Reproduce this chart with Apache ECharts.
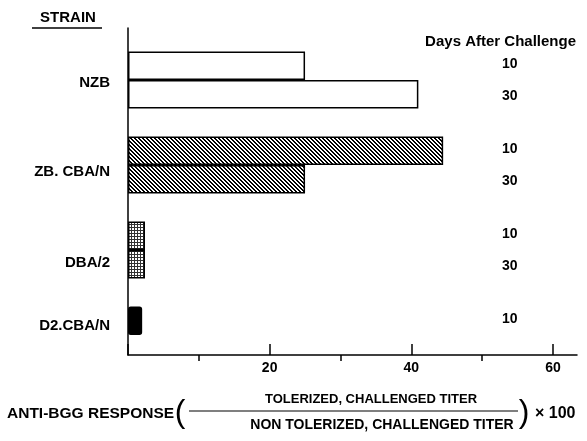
<!DOCTYPE html>
<html lang="en">
<head>
<meta charset="UTF-8">
<title>Anti-BGG response by strain</title>
<script src="https://cdn.jsdelivr.net/npm/echarts@6/dist/echarts.min.js"></script>
<style>
  html, body { margin: 0; padding: 0; background: #fff; }
  #chart { width: 587px; height: 441px; }
</style>
</head>
<body>
<div id="chart"></div>
<script>
// strains, top to bottom, and the response at 10 / 30 days after challenge
const strains = ['NZB', 'ZB. CBA/N', 'DBA/2', 'D2.CBA/N'];
const days = [10, 30];
const day10 = [25, 44.5, 2.4, 2.0];
const day30 = [41, 25, 2.4, null];
const tickLabels = [20, 40, 60];

const FONT = '"Liberation Sans", Arial, Helvetica, sans-serif';
// nudges for the strain names (px, + is down), the original lettering is not on the bar centres
const nameShift = [3, 7, 13, -9];

// small repeating canvas fills for the hatched / dotted bars
function makePattern(size, ink, isInk) {
    const c = document.createElement('canvas');
    c.width = size;
    c.height = size;
    const ctx = c.getContext('2d');
    ctx.fillStyle = '#fff';
    ctx.fillRect(0, 0, size, size);
    ctx.fillStyle = ink;
    for (let y = 0; y < size; y++) {
        for (let x = 0; x < size; x++) {
            if (isInk(x, y)) ctx.fillRect(x, y, 1, 1);
        }
    }
    return { image: c, repeat: 'repeat' };
}
const hatch = makePattern(4, '#000', (x, y) => ((x - y + 8) % 4) < 2);
const stipple = makePattern(3, '#333', (x, y) => x % 3 === 2 || y % 3 === 2);
const fills = ['#fff', hatch, stipple, '#000'];

function barData(vals) {
    return vals.map((v, i) => ({
        value: v,
        itemStyle: { color: fills[i], borderRadius: i === 3 ? 2 : 0 }
    }));
}

// right-hand "days" column, one line per day that has a bar
function dayLabel(value, idx) {
    const lines = [day10[idx] != null ? days[0] : ' ', day30[idx] != null ? days[1] : ' '];
    return lines.join('\n');
}

const nameRich = {};
nameShift.forEach((d, i) => {
    nameRich['s' + i] = {
        color: '#000', fontSize: 15, fontWeight: 'bold', fontFamily: FONT,
        padding: d > 0 ? [2 * d, 0, 0, 0] : [0, 0, -2 * d, 0]
    };
});

const chart = echarts.init(document.getElementById('chart'));

// plot spans x = 128..577 for 0..xMax; the tick strip stops at 60
const plotLeft = 128, plotRight = 577, axisY = 355, xMax = 63.4, tickMax = 60;
const tickRight = 587 - (plotLeft + (plotRight - plotLeft) * tickMax / xMax);
const majorLen = 11;

const option = {
    animation: false,
    grid: [
        { left: plotLeft, right: 587 - plotRight, top: 37.5, height: 340 },
        { left: plotLeft, right: 587 - plotRight, top: 28, bottom: 441 - axisY },
        // thin strip above the x axis: its split lines are the long ticks
        { left: plotLeft, right: tickRight, top: axisY - majorLen, bottom: 441 - axisY }
    ],
    xAxis: [
        { gridIndex: 0, type: 'value', min: 0, max: xMax, show: false },
        {
            gridIndex: 1, type: 'value', min: 0, max: xMax, position: 'bottom',
            axisLine: { show: true, lineStyle: { color: '#000', width: 1.5 } },
            axisTick: { show: false },
            axisLabel: { customValues: tickLabels, margin: 6, color: '#000', fontSize: 14, fontWeight: 'bold', fontFamily: FONT },
            splitLine: { show: false }
        },
        {
            gridIndex: 2, type: 'value', min: 0, max: tickMax, interval: 20, position: 'bottom',
            axisLine: { show: false },
            axisTick: { show: false },
            minorTick: { show: true, splitNumber: 2, length: 6, lineStyle: { color: '#000', width: 1.5 } },
            axisLabel: { show: false },
            splitLine: { show: true, lineStyle: { color: '#000', width: 1.5 } }
        }
    ],
    yAxis: [
        {
            gridIndex: 0, type: 'category', data: strains, inverse: true,
            axisLine: { show: false }, axisTick: { show: false },
            axisLabel: {
                margin: 18,
                formatter: (value, idx) => '{s' + idx + '|' + value + '}',
                rich: nameRich
            }
        },
        {
            gridIndex: 0, type: 'category', data: strains, inverse: true, position: 'right', offset: -75,
            axisLine: { show: false }, axisTick: { show: false },
            axisLabel: {
                margin: 0, align: 'left', lineHeight: 32, formatter: dayLabel,
                color: '#000', fontSize: 14, fontWeight: 'bold', fontFamily: FONT
            }
        },
        {
            gridIndex: 1, type: 'value', min: 0, max: 1,
            axisLine: { show: true, lineStyle: { color: '#000', width: 1.5 } },
            axisTick: { show: false }, axisLabel: { show: false }, splitLine: { show: false }
        },
        { gridIndex: 2, type: 'value', min: 0, max: 1, show: false }
    ],
    series: [
        {
            name: '10 days', type: 'bar', xAxisIndex: 0, yAxisIndex: 0,
            barGap: '0%', barCategoryGap: '33%',
            itemStyle: { borderColor: '#000', borderWidth: 1.5 },
            data: barData(day10)
        },
        {
            name: '30 days', type: 'bar', xAxisIndex: 0, yAxisIndex: 0,
            barGap: '0%', barCategoryGap: '33%',
            itemStyle: { borderColor: '#000', borderWidth: 1.5 },
            data: barData(day30)
        }
    ],
    graphic: [
        { type: 'text', x: 68, y: 18, style: { text: 'STRAIN', fill: '#000', font: 'bold 15px ' + FONT, align: 'center', verticalAlign: 'middle', textAlign: 'center', textVerticalAlign: 'middle' } },
        { type: 'line', shape: { x1: 32, y1: 28, x2: 102, y2: 28 }, style: { stroke: '#000', lineWidth: 1.5 } },
        { type: 'text', x: 576, y: 42, style: { text: 'Days After Challenge', fill: '#000', font: 'bold 15px ' + FONT, align: 'right', verticalAlign: 'middle', textAlign: 'right', textVerticalAlign: 'middle' } },
        // x axis title: ANTI-BGG RESPONSE (tolerized / non tolerized) x 100
        { type: 'text', x: 7, y: 414, style: { text: 'ANTI-BGG RESPONSE', fill: '#000', font: 'bold 15.5px ' + FONT, align: 'left', verticalAlign: 'middle', textAlign: 'left', textVerticalAlign: 'middle' } },
        { type: 'text', x: 180, y: 413, style: { text: '(', fill: '#000', font: '32px ' + FONT, align: 'center', verticalAlign: 'middle', textAlign: 'center', textVerticalAlign: 'middle' } },
        { type: 'text', x: 371, y: 399, style: { text: 'TOLERIZED, CHALLENGED TITER', fill: '#000', font: 'bold 13px ' + FONT, align: 'center', verticalAlign: 'middle', textAlign: 'center', textVerticalAlign: 'middle' } },
        { type: 'line', shape: { x1: 189, y1: 411, x2: 518, y2: 411 }, style: { stroke: '#000', lineWidth: 1.2 } },
        { type: 'text', x: 382, y: 425, style: { text: 'NON TOLERIZED, CHALLENGED TITER', fill: '#000', font: 'bold 14px ' + FONT, align: 'center', verticalAlign: 'middle', textAlign: 'center', textVerticalAlign: 'middle' } },
        { type: 'text', x: 524, y: 413, style: { text: ')', fill: '#000', font: '32px ' + FONT, align: 'center', verticalAlign: 'middle', textAlign: 'center', textVerticalAlign: 'middle' } },
        { type: 'text', x: 535, y: 414, style: { text: '× 100', fill: '#000', font: 'bold 16px ' + FONT, align: 'left', verticalAlign: 'middle', textAlign: 'left', textVerticalAlign: 'middle' } }
    ]
};

chart.setOption(option);
</script>
</body>
</html>
